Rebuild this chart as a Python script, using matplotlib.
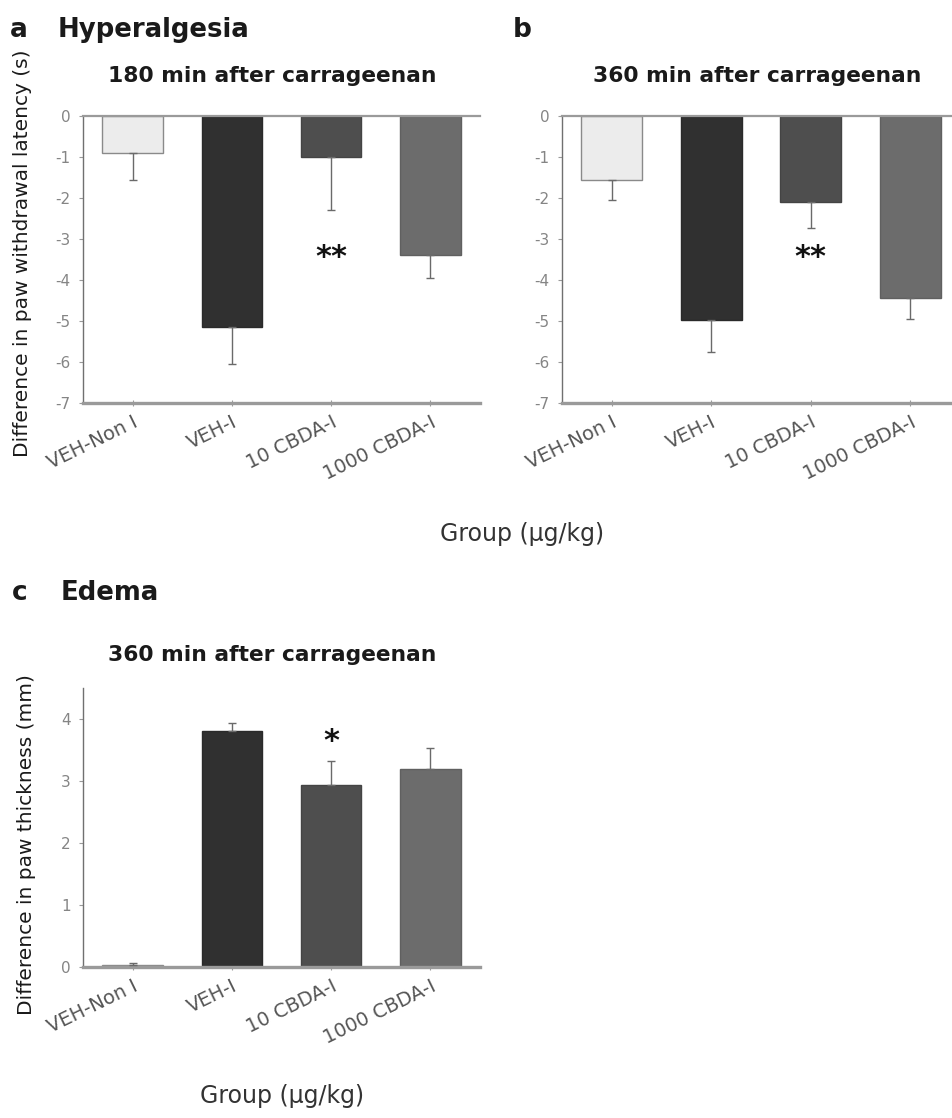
import matplotlib
matplotlib.use("Agg")
import matplotlib.pyplot as plt
import numpy as np

groups = ["VEH-Non I", "VEH-I", "10 CBDA-I", "1000 CBDA-I"]
colors = ["#ececec", "#303030", "#4e4e4e", "#6c6c6c"]
edges = ["#8a8a8a", "#2a2a2a", "#444444", "#606060"]

hyper_180 = [-0.9, -5.15, -1.0, -3.4]
hyper_180_err = [0.65, 0.9, 1.3, 0.55]
hyper_360 = [-1.55, -4.97, -2.1, -4.45]
hyper_360_err = [0.5, 0.78, 0.62, 0.5]
edema_360 = [0.03, 3.81, 2.93, 3.2]
edema_360_err = [0.04, 0.12, 0.4, 0.33]

sig_a = {"group": 2, "y": -3.45, "text": "**"}
sig_b = {"group": 2, "y": -3.45, "text": "**"}
sig_c = {"group": 2, "y": 3.64, "text": "*"}

W, H = 953, 1118
fig = plt.figure(figsize=(W / 100, H / 100), dpi=100)

def fx(px):
    return px / W

def fy(py):
    return 1 - py / H

tick_color = "#858585"
spine_color = "#9a9a9a"
FONT = "DejaVu Sans"


def bar_panel(rect, vals, errs, ylim, yticks, xlim, negative, sig):
    ax = fig.add_axes(rect)
    x = np.arange(len(groups))
    ax.bar(x, vals, width=0.61, color=colors, edgecolor=edges, linewidth=1.0, zorder=2)
    lower = [e if negative else 0 for e in errs]
    upper = [0 if negative else e for e in errs]
    ax.errorbar(x, vals, yerr=[lower, upper], fmt="none", ecolor="#6a6a6a",
                elinewidth=1.0, capsize=3, capthick=1.0, zorder=3)
    ax.set_xlim(*xlim)
    ax.set_ylim(*ylim)
    ax.set_yticks(yticks)
    ax.set_yticklabels([str(t) for t in yticks], fontfamily=FONT,
                       fontsize=11, color=tick_color)
    ax.set_xticks(x)
    ax.set_xticklabels(groups, rotation=26, ha="right", rotation_mode="anchor",
                       fontfamily=FONT, fontsize=14, color="#555555")
    ax.tick_params(axis="y", direction="out", length=3, width=0.8, colors=spine_color,
                   labelcolor=tick_color, pad=6)
    ax.tick_params(axis="x", direction="inout", length=4, width=0.8, colors=spine_color,
                   labelcolor="#555555", pad=5)
    ax.spines["right"].set_visible(False)
    ax.spines["left"].set_color("#707070")
    ax.spines["left"].set_linewidth(1.0)
    ax.spines["bottom"].set_color(spine_color)
    ax.spines["bottom"].set_linewidth(2.4)
    if negative:
        ax.spines["top"].set_color(spine_color)
        ax.spines["top"].set_linewidth(1.6)
    else:
        ax.spines["top"].set_visible(False)
    ax.text(sig["group"], sig["y"], sig["text"], ha="center", va="center",
            fontsize=22, fontfamily=FONT, fontweight="bold", color="#111111", zorder=4)
    return ax

# panel a
ax_a = bar_panel([fx(83), fy(403), fx(480) - fx(83), fy(116) - fy(403)],
                 hyper_180, hyper_180_err, (-7, 0), list(range(0, -8, -1)),
                 (-0.5, 3.5), True, sig_a)
# panel b
ax_b = bar_panel([fx(562), fy(403), fx(953) - fx(562), fy(116) - fy(403)],
                 hyper_360, hyper_360_err, (-7, 0), list(range(0, -8, -1)),
                 (-0.5, 3.43), True, sig_b)
# panel c
ax_c = bar_panel([fx(83), fy(967), fx(480) - fx(83), fy(688) - fy(967)],
                 edema_360, edema_360_err, (0, 4.5), [0, 1, 2, 3, 4],
                 (-0.5, 3.5), False, sig_c)

bold = dict(fontfamily=FONT, fontweight="bold", color="#1a1a1a")
fig.text(fx(10), fy(37), "a", fontsize=19, va="baseline", ha="left", **bold)
fig.text(fx(58), fy(37), "Hyperalgesia", fontsize=18.7, va="baseline", ha="left", **bold)
fig.text(fx(513), fy(37), "b", fontsize=19, va="baseline", ha="left", **bold)
fig.text(fx(12), fy(600), "c", fontsize=19, va="baseline", ha="left", **bold)
fig.text(fx(61), fy(600), "Edema", fontsize=18.7, va="baseline", ha="left", **bold)

fig.text(fx(272), fy(82), "180 min after carrageenan", fontsize=15.7, va="baseline", ha="center", **bold)
fig.text(fx(757), fy(82), "360 min after carrageenan", fontsize=15.7, va="baseline", ha="center", **bold)
fig.text(fx(272), fy(661), "360 min after carrageenan", fontsize=15.7, va="baseline", ha="center", **bold)

fig.text(fx(23), fy(253), "Difference in paw withdrawal latency (s)", rotation=90,
         fontsize=14.5, fontfamily=FONT, va="center", ha="center", color="#1a1a1a")
fig.text(fx(27), fy(845), "Difference in paw thickness (mm)", rotation=90,
         fontsize=14.5, fontfamily=FONT, va="center", ha="center", color="#1a1a1a")

fig.text(fx(522), fy(541), "Group (\u00b5g/kg)", fontsize=17, fontfamily=FONT,
         va="baseline", ha="center", color="#333333")
fig.text(fx(282), fy(1103), "Group (\u00b5g/kg)", fontsize=17, fontfamily=FONT,
         va="baseline", ha="center", color="#333333")

fig.savefig("out.png", dpi=100)
